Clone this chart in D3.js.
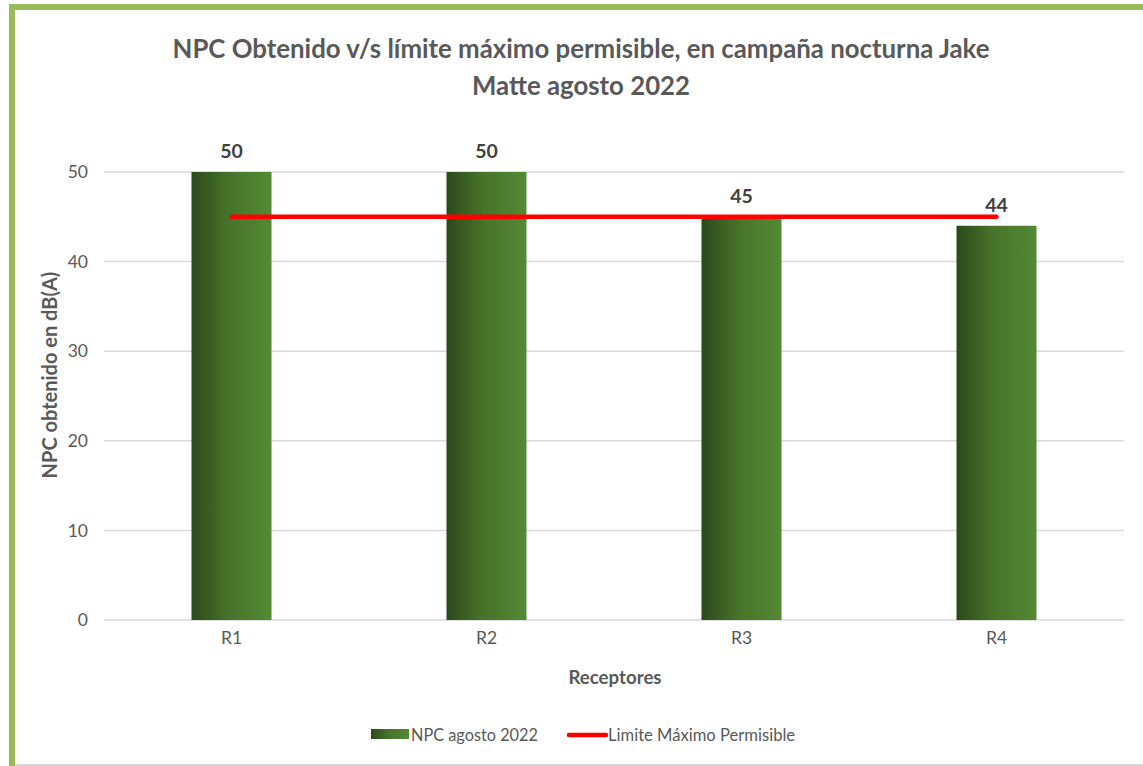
<!DOCTYPE html>
<meta charset="utf-8">
<script src="https://cdn.jsdelivr.net/npm/d3@7"></script>
<style>
  body { margin: 0; background: #fff; }
  text { font-family: Lato, sans-serif; }
</style>
<div id="wrapper"></div>
<script>
  // Data
  const categories = ["R1", "R2", "R3", "R4"];
  const npcValues = [50, 50, 45, 44];
  const limitValues = [45, 45, 45, 45];
  const yTicks = [0, 10, 20, 30, 40, 50];
  const titleLines = ["NPC Obtenido v/s límite máximo permisible, en campaña nocturna Jake", "Matte agosto 2022"];

  const W = 1143, H = 766;
  const plot = { left: 104, right: 1124, top: 172, bottom: 620 };

  const svg = d3.select("#wrapper").append("svg")
    .attr("width", W).attr("height", H);

  // frame
  svg.append("rect").attr("x", 0).attr("y", 0).attr("width", W).attr("height", H).attr("fill", "#fff");
  svg.append("line").attr("x1", 12).attr("x2", W).attr("y1", 7).attr("y2", 7)
    .attr("stroke", "#9bbb59").attr("stroke-width", 6);
  svg.append("line").attr("x1", 12).attr("x2", 12).attr("y1", 4).attr("y2", H)
    .attr("stroke", "#9bbb59").attr("stroke-width", 6);
  svg.append("line").attr("x1", 15).attr("x2", W).attr("y1", 765).attr("y2", 765)
    .attr("stroke", "#d9d9d9").attr("stroke-width", 2);

  // gradient
  const defs = svg.append("defs");
  const grad = defs.append("linearGradient").attr("id", "barGrad")
    .attr("x1", "0%").attr("x2", "100%").attr("y1", "0%").attr("y2", "0%");
  grad.append("stop").attr("offset", "0%").attr("stop-color", "#2b4a1b");
  grad.append("stop").attr("offset", "45%").attr("stop-color", "#467229");
  grad.append("stop").attr("offset", "100%").attr("stop-color", "#548a34");

  // title
  svg.append("text")
    .attr("text-anchor", "middle")
    .attr("fill", "#595959")
    .attr("font-size", 25.8)
    .attr("font-weight", "bold")
    .selectAll("tspan").data(titleLines).join("tspan")
    .attr("x", 581).attr("y", (d, i) => 58 + i * 37)
    .text(d => d);

  // scales
  const x = d3.scaleBand().domain(categories).range([plot.left, plot.right]);
  const y = d3.scaleLinear().domain([0, 50]).range([plot.bottom, plot.top]);
  const barW = 80;

  // gridlines
  svg.append("g").selectAll("line").data(yTicks).join("line")
    .attr("x1", plot.left).attr("x2", plot.right)
    .attr("y1", d => y(d)).attr("y2", d => y(d))
    .attr("stroke", "#d9d9d9").attr("stroke-width", 1.5);

  // y axis
  const yAxis = svg.append("g")
    .attr("transform", `translate(${plot.left},0)`)
    .call(d3.axisLeft(y).tickValues(yTicks).tickSize(0).tickPadding(16));
  yAxis.select(".domain").remove();
  yAxis.selectAll("text").attr("font-size", 17.5).attr("fill", "#595959")
    .style("font-family", "Lato, sans-serif");

  // x axis
  const xAxis = svg.append("g")
    .attr("transform", `translate(0,${plot.bottom})`)
    .call(d3.axisBottom(x).tickSize(0).tickPadding(12));
  xAxis.select(".domain").remove();
  xAxis.selectAll("text").attr("font-size", 17.5).attr("fill", "#595959")
    .style("font-family", "Lato, sans-serif");

  // bars
  svg.append("g").selectAll("rect").data(npcValues).join("rect")
    .attr("x", (d, i) => x(categories[i]) + x.bandwidth() / 2 - barW / 2)
    .attr("y", d => y(d))
    .attr("width", barW)
    .attr("height", d => y(0) - y(d))
    .attr("fill", "url(#barGrad)");

  // data labels
  svg.append("g").selectAll("text").data(npcValues).join("text")
    .attr("x", (d, i) => x(categories[i]) + x.bandwidth() / 2)
    .attr("y", d => y(d) - 14)
    .attr("text-anchor", "middle")
    .attr("font-size", 19.5).attr("font-weight", "bold").attr("fill", "#404040")
    .text(d => d);

  // limit line
  const line = d3.line()
    .x((d, i) => x(categories[i]) + x.bandwidth() / 2)
    .y(d => y(d));
  svg.append("path").datum(limitValues)
    .attr("d", line)
    .attr("fill", "none").attr("stroke", "#ff0000")
    .attr("stroke-width", 4.5).attr("stroke-linecap", "round");

  // axis titles
  svg.append("text")
    .attr("transform", "translate(57,375) rotate(-90)")
    .attr("text-anchor", "middle")
    .attr("font-size", 20).attr("font-weight", "bold").attr("fill", "#595959")
    .text("NPC obtenido en dB(A)");
  svg.append("text")
    .attr("x", 615).attr("y", 684)
    .attr("text-anchor", "middle")
    .attr("font-size", 18.7).attr("font-weight", "bold").attr("fill", "#595959")
    .text("Receptores");

  // legend
  const lg = svg.append("g");
  lg.append("rect").attr("x", 371).attr("y", 729).attr("width", 38).attr("height", 10)
    .attr("fill", "url(#barGrad)");
  lg.append("text").attr("x", 411).attr("y", 741)
    .attr("font-size", 16.3).attr("fill", "#595959").text("NPC agosto 2022");
  lg.append("line").attr("x1", 569).attr("x2", 606).attr("y1", 735).attr("y2", 735)
    .attr("stroke", "#ff0000").attr("stroke-width", 4.5).attr("stroke-linecap", "round");
  lg.append("text").attr("x", 608).attr("y", 741)
    .attr("font-size", 16.6).attr("fill", "#595959").text("Limite Máximo Permisible");
</script>
